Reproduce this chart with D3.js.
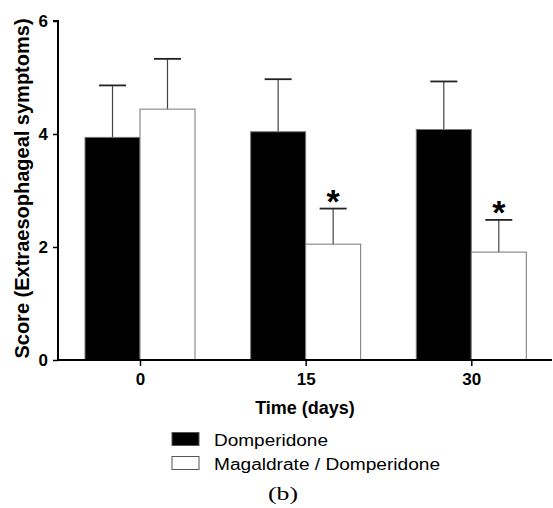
<!DOCTYPE html>
<html><head><meta charset="utf-8">
<script src="https://cdn.jsdelivr.net/npm/d3@7"></script>
<style>body{margin:0;background:#fff}svg{display:block}</style>
</head><body>
<script>
const categories = ["0", "15", "30"];
const seriesNames = ["Domperidone", "Magaldrate / Domperidone"];
const domperidoneMean = [3.94, 4.04, 4.08];
const domperidoneSD = [0.92, 0.93, 0.85];
const magaldrateMean = [4.44, 2.05, 1.91];
const magaldrateSD = [0.89, 0.63, 0.57];
const significant = [false, true, true];
const yTicks = [0, 2, 4, 6];

const W = 553, H = 508;
const svg = d3.select("body").append("svg").attr("width", W).attr("height", H);
const font = "'Liberation Sans', Arial, sans-serif";

const y = d3.scaleLinear().domain([0, 6]).range([360, 21]);
const x = d3.scalePoint().domain(categories).range([140, 471.3]);
const barW = 55;
const x0 = 58, xEnd = 552;

const series = [
  {name: seriesNames[0], mean: domperidoneMean, sd: domperidoneSD, fill: "#000", off: -1, len: 114},
  {name: seriesNames[1], mean: magaldrateMean, sd: magaldrateSD, fill: "#fff", off: 0, len: 226}
];

// bars
series.forEach(s => {
  const g = svg.append("g");
  categories.forEach((c, i) => {
    const bx = x(c) + s.off * barW;
    const cx = bx + barW / 2;
    const top = y(s.mean[i] + s.sd[i]);
    g.append("line").attr("x1", cx).attr("x2", cx)
      .attr("y1", y(s.mean[i])).attr("y2", top)
      .attr("stroke", "#444").attr("stroke-width", 1.2);
    g.append("line").attr("x1", cx - 13.5).attr("x2", cx + 13.5)
      .attr("y1", top).attr("y2", top)
      .attr("stroke", "#222").attr("stroke-width", 1.8);
    g.append("rect").attr("x", bx).attr("y", y(s.mean[i]))
      .attr("width", barW).attr("height", y(0) - y(s.mean[i]))
      .attr("fill", s.fill).attr("stroke", "#777").attr("stroke-width", 1);
    if (s.off === 0 && significant[i]) {
      g.append("text").attr("x", cx).attr("y", top + 4)
        .attr("text-anchor", "middle").attr("font-family", font)
        .attr("font-weight", "bold").attr("font-size", 34).text("*");
    }
  });
});

// y axis
const yAxis = svg.append("g").attr("transform", `translate(${x0},0)`)
  .call(d3.axisLeft(y).tickValues(yTicks).tickSize(5).tickPadding(5).tickFormat(d3.format("d")));
yAxis.select(".domain").attr("stroke", "#000").attr("stroke-width", 2).attr("d", `M-5,${y(6)}H0V${y(0)}`);
yAxis.selectAll(".tick line").attr("stroke", "#000").attr("stroke-width", 1.5);
yAxis.selectAll("text").attr("font-family", font).attr("font-weight", "bold").attr("font-size", 17).attr("fill", "#000");

// x axis
const xAxis = svg.append("g").attr("transform", `translate(0,${y(0)})`)
  .call(d3.axisBottom(x).tickSize(6).tickPadding(8));
xAxis.select(".domain").attr("stroke", "#000").attr("stroke-width", 2).attr("d", `M${x0},0H${xEnd}`);
xAxis.selectAll(".tick line").attr("stroke", "#000").attr("stroke-width", 1.5);
xAxis.selectAll("text").attr("y", 25).attr("dy", null).attr("font-family", font).attr("font-weight", "bold").attr("font-size", 17).attr("fill", "#000");

// axis titles
svg.append("text").attr("transform", `translate(29,188.5) rotate(-90)`)
  .attr("text-anchor", "middle").attr("font-family", font).attr("font-weight", "bold")
  .attr("font-size", 20).text("Score (Extraesophageal symptoms)");
svg.append("text").attr("x", 305).attr("y", 414).attr("text-anchor", "middle")
  .attr("font-family", font).attr("font-weight", "bold").attr("font-size", 18).text("Time (days)");

// legend
const leg = svg.append("g");
series.forEach((s, i) => {
  leg.append("rect").attr("x", 172).attr("y", 432.5 + i * 24).attr("width", 27).attr("height", 13)
    .attr("fill", s.fill).attr("stroke", "#555").attr("stroke-width", 1);
  leg.append("text").attr("x", 214).attr("y", 446 + i * 23.5)
    .attr("font-family", font).attr("font-size", 16)
    .attr("textLength", s.len).attr("lengthAdjust", "spacingAndGlyphs").text(s.name);
});

svg.append("text").attr("x", 268).attr("y", 500)
  .attr("font-family", "'Liberation Serif', 'Times New Roman', serif").attr("font-size", 18)
  .attr("textLength", 30).attr("lengthAdjust", "spacingAndGlyphs").text("(b)");
</script>
</body></html>
